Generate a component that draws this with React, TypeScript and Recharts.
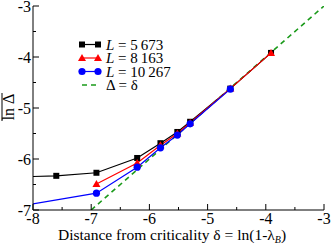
import { LineChart, Line, XAxis, YAxis } from 'recharts'

// ln(1 - lambda_B) sample points
const xs = [-8.52, -7.6, -6.91, -6.21, -5.81, -5.52, -5.3, -4.61, -3.91]
const black = [-6.36, -6.33, -6.27, -5.98, -5.69, -5.47, -5.27, -4.62, -3.92]
const red = [null, null, -6.49, -6.08, -5.73, -5.5, -5.29, -4.62, -3.92]
const blue = [-6.98, null, -6.67, -6.16, -5.78, -5.53, -5.31, -4.63, null]
const diagX = [-7, -3]

const xTicks = [-8, -7.5, -7, -6.5, -6, -5.5, -5, -4.5, -4, -3.5, -3]
const yTicks = [-7, -6.5, -6, -5.5, -5, -4.5, -4, -3.5, -3]

const serif = { fontFamily: "'Liberation Serif', 'Times New Roman', serif" }

const toPoints = (ys: (number | null)[]) =>
  xs.map((x, i) => ({ x, y: ys[i] })).filter((p) => p.y !== null)

const series = [
  { key: 'L5673', label: '5\u2009673', color: '#000000', data: toPoints(black), marker: 'square' },
  { key: 'L8163', label: '8\u2009163', color: '#ff0000', data: toPoints(red), marker: 'triangle' },
  { key: 'L10267', label: '10\u2009267', color: '#0000ff', data: toPoints(blue), marker: 'circle' },
]
const diagData = diagX.map((x) => ({ x, y: x }))

function Marker({ cx, cy, kind, color }: any) {
  if (cx == null || cy == null) return null
  if (kind === 'square') return <rect x={cx - 3} y={cy - 3} width={6} height={6} fill={color} />
  if (kind === 'triangle')
    return <polygon points={`${cx},${cy - 4} ${cx - 4},${cy + 3} ${cx + 4},${cy + 3}`} fill={color} />
  return <circle cx={cx} cy={cy} r={3.6} fill={color} />
}

const isMajor = (v: number) => Number.isInteger(v)

function BottomTick({ x, y, payload }: any) {
  const v = payload.value
  return (
    <g>
      <line x1={x} x2={x} y1={y} y2={y - (isMajor(v) ? 6 : 3)} stroke="#000" />
      {isMajor(v) && (
        <text x={x} y={y + 14} textAnchor="middle" style={serif} fontSize={16} fill="#000">
          {`${v}`}
        </text>
      )}
    </g>
  )
}

function TopTick({ x, y, payload }: any) {
  const v = payload.value
  return <line x1={x} x2={x} y1={y} y2={y + (isMajor(v) ? 6 : 3)} stroke="#000" />
}

function LeftTick({ x, y, payload }: any) {
  const v = payload.value
  return (
    <g>
      <line x1={x} x2={x + (isMajor(v) ? 6 : 3)} y1={y} y2={y} stroke="#000" />
      {isMajor(v) && (
        <text x={x - 2} y={y + 5.5} textAnchor="end" style={serif} fontSize={16} fill="#000">
          {`${v}`}
        </text>
      )}
    </g>
  )
}

function RightTick({ x, y, payload }: any) {
  const v = payload.value
  return <line x1={x} x2={x - (isMajor(v) ? 6 : 3)} y1={y} y2={y} stroke="#000" />
}

export default function App() {
  return (
    <div style={{ position: 'absolute', left: 0, top: 0, width: 332, height: 245, background: '#fff' }}>
      <LineChart width={332} height={245} margin={{ top: 6, right: 8, bottom: 0, left: 0 }}>
        <XAxis
          xAxisId="b"
          dataKey="x"
          type="number"
          domain={[-8, -3]}
          ticks={xTicks}
          allowDataOverflow
          height={35}
          tickSize={0}
          tickMargin={0}
          tick={<BottomTick />}
          axisLine={{ stroke: '#000' }}
          interval={0}
        />
        <XAxis
          xAxisId="t"
          orientation="top"
          dataKey="x"
          type="number"
          domain={[-8, -3]}
          ticks={xTicks}
          allowDataOverflow
          height={0}
          tickSize={0}
          tickMargin={0}
          tick={<TopTick />}
          axisLine={{ stroke: '#000' }}
          interval={0}
        />
        <YAxis
          yAxisId="l"
          dataKey="y"
          type="number"
          domain={[-7, -3]}
          ticks={yTicks}
          allowDataOverflow
          width={33}
          tickSize={0}
          tickMargin={0}
          tick={<LeftTick />}
          axisLine={{ stroke: '#000' }}
          interval={0}
        />
        <YAxis
          yAxisId="r"
          orientation="right"
          dataKey="y"
          type="number"
          domain={[-7, -3]}
          ticks={yTicks}
          allowDataOverflow
          width={0}
          tickSize={0}
          tickMargin={0}
          tick={<RightTick />}
          axisLine={{ stroke: '#000' }}
          interval={0}
        />
        <Line
          xAxisId="b"
          yAxisId="l"
          data={diagData}
          dataKey="y"
          stroke="#1a9a1a"
          strokeWidth={1.6}
          strokeDasharray="5 4"
          dot={false}
          isAnimationActive={false}
        />
        {series.map((s) => (
          <Line
            key={s.key}
            xAxisId="b"
            yAxisId="l"
            data={s.data}
            dataKey="y"
            stroke={s.color}
            strokeWidth={1.2}
            isAnimationActive={false}
            dot={(p: any) => <Marker key={`${s.key}-${p.index}`} cx={p.cx} cy={p.cy} kind={s.marker} color={s.color} />}
          />
        ))}
      </LineChart>
      <svg width={332} height={245} style={{ position: 'absolute', left: 0, top: 0, pointerEvents: 'none' }}>
        {series.map((s, i) => {
          const y = 44.5 + i * 13.5
          return (
            <g key={s.key}>
              <line x1={81} x2={99} y1={y} y2={y} stroke={s.color} strokeWidth={1.2} />
              <Marker cx={82} cy={y} kind={s.marker} color={s.color} />
              <Marker cx={98} cy={y} kind={s.marker} color={s.color} />
              <text x={106} y={y + 5} style={serif} fontSize={15} fill="#000">
                <tspan fontStyle="italic">L</tspan>
                {` = ${s.label}`}
              </text>
            </g>
          )
        })}
        <line x1={82} x2={99} y1={85} y2={85} stroke="#1a9a1a" strokeWidth={1.6} strokeDasharray="5 4" />
        <text x={106} y={90} style={serif} fontSize={15} fill="#000">Δ = δ</text>
        <text x={58} y={240} style={serif} fontSize={15.5} fill="#000">
          Distance from criticality δ = ln(1-λ
          <tspan fontStyle="italic" fontSize={10} dy={3}>B</tspan>
          <tspan dy={-3}>)</tspan>
        </text>
        <g transform="translate(14,107) rotate(-90)">
          <text x={0} y={0} textAnchor="middle" style={serif} fontSize={16} fill="#000">ln Δ</text>
          <line x1={-14} x2={14} y1={-12} y2={-12} stroke="#000" strokeWidth={1} />
        </g>
      </svg>
    </div>
  )
}
